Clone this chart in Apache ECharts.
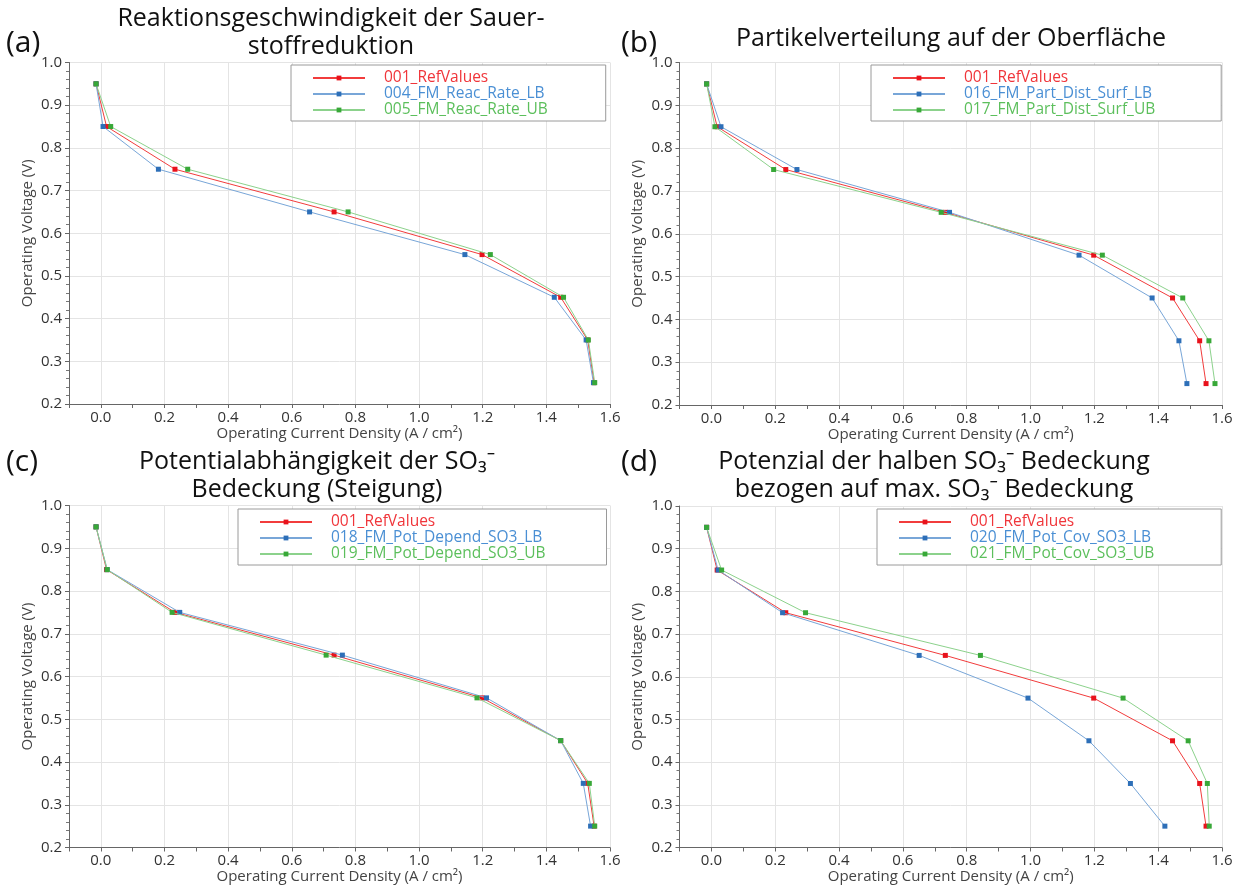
<!DOCTYPE html>
<html>
<head>
<meta charset="utf-8">
<script src="https://cdn.jsdelivr.net/npm/echarts@6/dist/echarts.min.js"></script>
<style>
  html, body { margin: 0; padding: 0; background: #fff; }
  #chart { width: 1239px; height: 887px; }
</style>
</head>
<body>
<div id="chart"></div>
<script>
// Operating voltage levels (V), shared by every curve
const voltage = [0.95, 0.85, 0.75, 0.65, 0.55, 0.45, 0.35, 0.25];

// Current density (A/cm²) of the reference run
const refValues = [-0.015, 0.018, 0.233, 0.733, 1.198, 1.445, 1.530, 1.550];

// (a) oxygen reduction reaction rate
const reacRateLB = [-0.015, 0.007, 0.181, 0.656, 1.144, 1.425, 1.525, 1.548];
const reacRateUB = [-0.015, 0.031, 0.273, 0.777, 1.224, 1.454, 1.532, 1.552];

// (b) particle distribution on the surface
const partDistLB = [-0.015, 0.030, 0.268, 0.746, 1.152, 1.381, 1.465, 1.490];
const partDistUB = [-0.015, 0.011, 0.195, 0.720, 1.225, 1.477, 1.559, 1.578];

// (c) potential dependence of SO3- coverage
const potDependLB = [-0.015, 0.020, 0.248, 0.759, 1.212, 1.445, 1.516, 1.539];
const potDependUB = [-0.015, 0.020, 0.224, 0.708, 1.182, 1.445, 1.535, 1.552];

// (d) potential of half SO3- coverage
const potCovLB = [-0.015, 0.021, 0.223, 0.651, 0.992, 1.183, 1.313, 1.421];
const potCovUB = [-0.015, 0.032, 0.295, 0.843, 1.290, 1.494, 1.554, 1.560];

const panelNames = [
  ['001_RefValues', '004_FM_Reac_Rate_LB', '005_FM_Reac_Rate_UB'],
  ['001_RefValues', '016_FM_Part_Dist_Surf_LB', '017_FM_Part_Dist_Surf_UB'],
  ['001_RefValues', '018_FM_Pot_Depend_SO3_LB', '019_FM_Pot_Depend_SO3_UB'],
  ['001_RefValues', '020_FM_Pot_Cov_SO3_LB', '021_FM_Pot_Cov_SO3_UB']
];
const panelCurves = [
  [refValues, reacRateLB, reacRateUB],
  [refValues, partDistLB, partDistUB],
  [refValues, potDependLB, potDependUB],
  [refValues, potCovLB, potCovUB]
];
const panelTitles = [
  'Reaktionsgeschwindigkeit der Sauer-\nstoffreduktion',
  'Partikelverteilung auf der Oberfläche',
  'Potentialabhängigkeit der SO₃⁻\nBedeckung (Steigung)',
  'Potenzial der halben SO₃⁻ Bedeckung\nbezogen auf max. SO₃⁻ Bedeckung'
];
const panelLetters = ['(a)', '(b)', '(c)', '(d)'];
const xTitle = 'Operating Current Density (A / cm²)';
const yTitle = 'Operating Voltage (V)';

const FONT = "'Open Sans', 'Noto Sans', 'DejaVu Sans', sans-serif";
const lineColors = ['#f23c3c', '#78a6d8', '#8cd28c'];
const markColors = ['#e8121c', '#2d6fb8', '#38a838'];
const textColors = ['#f0353a', '#4a8fd4', '#5cbf5c'];

const grids = [
  { left: 69, top: 62.5, width: 541, height: 341.5 },
  { left: 679.5, top: 62.5, width: 542.5, height: 342.5 },
  { left: 69, top: 505.5, width: 541, height: 342 },
  { left: 679.5, top: 506, width: 542.5, height: 341.5 }
];
const legendPos = [
  { left: 291, top: 65, right: 58 },
  { left: 871, top: 65, right: 66 },
  { left: 238, top: 509, right: 61 },
  { left: 877, top: 509, right: 67 }
];
const titlePos = [
  { x: 331, y: 33 }, { x: 951, y: 39 }, { x: 317, y: 476 }, { x: 934, y: 476 }
];
const letterPos = [
  { x: 6, y: 43 }, { x: 621, y: 43 }, { x: 6, y: 462 }, { x: 621, y: 462 }
];

const xAxes = [], yAxes = [], series = [], legends = [], graphics = [];

grids.forEach((g, i) => {
  g.outerBoundsMode = 'none';
  xAxes.push({
    type: 'value', gridIndex: i, min: -0.1, max: 1.6, interval: 0.1,
    name: xTitle, nameLocation: 'middle', nameGap: 21,
    nameTextStyle: { fontFamily: FONT, fontSize: 15, color: '#444' },
    axisLine: { show: true, onZero: false, lineStyle: { color: '#666', width: 1 } },
    axisTick: { show: true, length: 4, lineStyle: { color: '#666' } },
    axisLabel: {
      fontFamily: FONT, fontSize: 15, color: '#333', margin: 6,
      formatter: v => (Math.round(v * 10) % 2 === 0 ? v.toFixed(1) : '')
    },
    splitLine: { show: true, lineStyle: { color: ['rgba(0,0,0,0)', '#e4e4e4'], width: 1 } }
  });
  yAxes.push({
    type: 'value', gridIndex: i, min: 0.2, max: 1.0, interval: 0.1,
    name: yTitle, nameLocation: 'middle', nameGap: 34,
    nameTextStyle: { fontFamily: FONT, fontSize: 15, color: '#444' },
    axisLine: { show: true, onZero: false, lineStyle: { color: '#666', width: 1 } },
    axisTick: { show: true, length: 4, lineStyle: { color: '#666' } },
    minorTick: { show: true, splitNumber: 5, length: 3, lineStyle: { color: '#777' } },
    axisLabel: { fontFamily: FONT, fontSize: 15, color: '#333', margin: 7, formatter: v => v.toFixed(1) },
    splitLine: { show: true, lineStyle: { color: '#e4e4e4', width: 1 } }
  });

  panelCurves[i].forEach((xs, k) => {
    series.push({
      type: 'line', name: panelNames[i][k], xAxisIndex: i, yAxisIndex: i,
      data: xs.map((x, j) => [x, voltage[j]]),
      symbol: 'rect', symbolSize: 5, showSymbol: true,
      lineStyle: { color: lineColors[k], width: 1 },
      itemStyle: { color: markColors[k] },
      emphasis: { disabled: true },
      z: 2 + k
    });
  });

  const lp = legendPos[i];
  legends.push({
    orient: 'vertical', left: lp.left, top: lp.top,
    padding: [5, lp.right, 3, 21],
    itemWidth: 52, itemHeight: 6, itemGap: 0,
    borderColor: '#9a9a9a', borderWidth: 1, backgroundColor: '#fff',
    selectedMode: false,
    textStyle: { fontFamily: FONT, fontSize: 15.5, lineHeight: 15.5, padding: [0, 0, 0, 14] },
    data: panelNames[i].map((n, k) => ({ name: n, textStyle: { color: textColors[k] } }))
  });

  graphics.push({
    type: 'text', x: titlePos[i].x, y: titlePos[i].y, silent: true,
    style: {
      text: panelTitles[i], fill: '#111', fontFamily: FONT, fontSize: 25,
      lineHeight: 28, textAlign: 'center', textVerticalAlign: 'middle'
    }
  });
  graphics.push({
    type: 'text', x: letterPos[i].x, y: letterPos[i].y, silent: true,
    style: {
      text: panelLetters[i], fill: '#111', fontFamily: FONT, fontSize: 30,
      textAlign: 'left', textVerticalAlign: 'middle'
    }
  });
});

const chart = echarts.init(document.getElementById('chart'), null, { renderer: 'canvas' });
chart.setOption({
  animation: false,
  backgroundColor: '#fff',
  grid: grids,
  xAxis: xAxes,
  yAxis: yAxes,
  legend: legends,
  series: series,
  graphic: graphics
});
</script>
</body>
</html>
